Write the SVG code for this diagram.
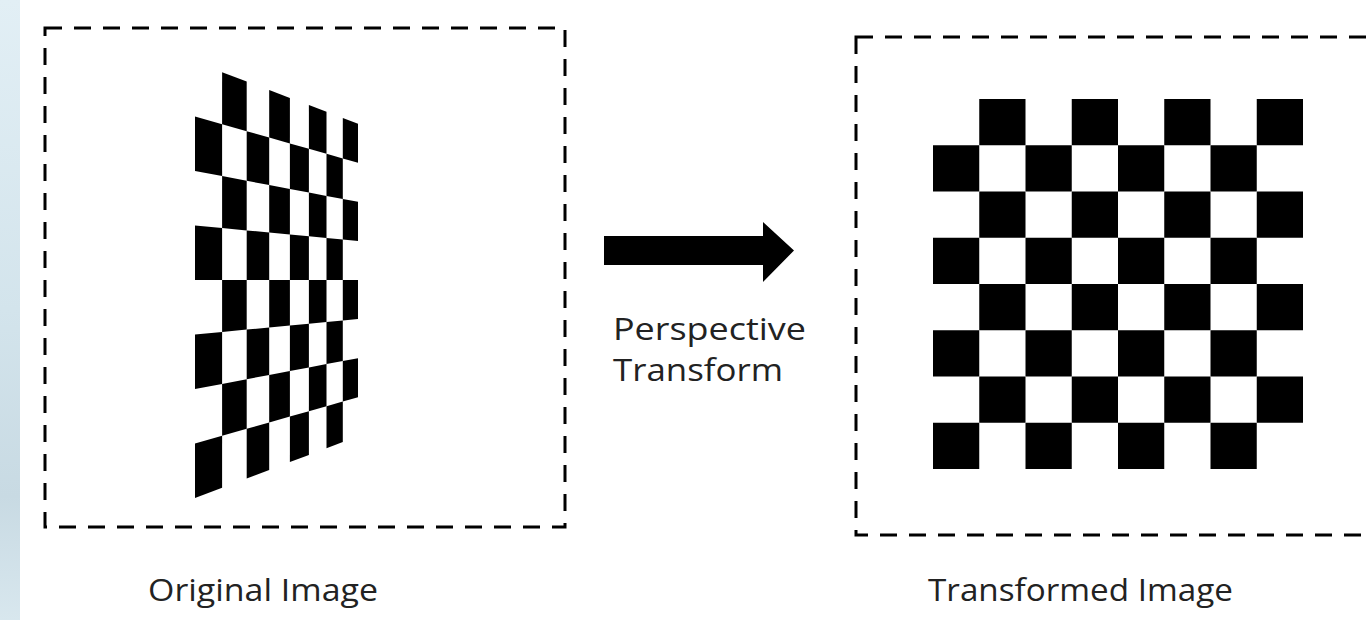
<svg xmlns="http://www.w3.org/2000/svg" width="1366" height="620" viewBox="0 0 1366 620">
  <style>
    .frame { fill: none; stroke: #000; stroke-width: 3; stroke-dasharray: 17 12; }
    .sq { fill: #000; }
    .label { font-family: "Open Sans", "Liberation Sans", sans-serif; font-size: 31px; fill: #222; }
  </style>
  <defs>
    <linearGradient id="edgeFade" x1="0" y1="0" x2="0" y2="1">
      <stop offset="0" stop-color="#e2eff5"/>
      <stop offset="0.5" stop-color="#d3e4ec"/>
      <stop offset="0.8" stop-color="#c8dae3"/>
      <stop offset="1" stop-color="#d8e7ee"/>
    </linearGradient>
    <!-- one square of the flat board, reused cell by cell -->
    <rect id="cell" width="46.25" height="46.25" class="sq"/>
  </defs>

  <rect width="1366" height="620" fill="#fff"/>
  <rect x="0" y="0" width="20" height="620" fill="url(#edgeFade)"/>

  <!-- source: board seen in perspective, columns shrinking to the right -->
  <g id="original">
    <rect class="frame" x="45" y="28" width="520" height="499"/>
    <g class="sq">
      <polygon points="195,116.5 222.1,124.2 222.1,176.1 195,171.0"/>
      <polygon points="195,225.5 222.1,228.1 222.1,280.0 195,280.0"/>
      <polygon points="195,334.5 222.1,331.9 222.1,383.9 195,389.0"/>
      <polygon points="195,443.5 222.1,435.8 222.1,487.8 195,498.0"/>

      <polygon points="222.1,72.2 246.7,81.6 246.7,131.2 222.1,124.2"/>
      <polygon points="222.1,176.1 246.7,180.8 246.7,230.4 222.1,228.1"/>
      <polygon points="222.1,280.0 246.7,280.0 246.7,329.6 222.1,331.9"/>
      <polygon points="222.1,383.9 246.7,379.2 246.7,428.8 222.1,435.8"/>

      <polygon points="246.7,131.2 269.2,137.6 269.2,185.0 246.7,180.8"/>
      <polygon points="246.7,230.4 269.2,232.5 269.2,280.0 246.7,280.0"/>
      <polygon points="246.7,329.6 269.2,327.5 269.2,375.0 246.7,379.2"/>
      <polygon points="246.7,428.8 269.2,422.4 269.2,469.9 246.7,478.4"/>

      <polygon points="269.2,90.1 289.9,97.9 289.9,143.4 269.2,137.6"/>
      <polygon points="269.2,185.0 289.9,188.9 289.9,234.5 269.2,232.5"/>
      <polygon points="269.2,280.0 289.9,280.0 289.9,325.5 269.2,327.5"/>
      <polygon points="269.2,375.0 289.9,371.1 289.9,416.6 269.2,422.4"/>

      <polygon points="289.9,143.4 308.9,148.8 308.9,192.6 289.9,188.9"/>
      <polygon points="289.9,234.5 308.9,236.3 308.9,280.0 289.9,280.0"/>
      <polygon points="289.9,325.5 308.9,323.7 308.9,367.4 289.9,371.1"/>
      <polygon points="289.9,416.6 308.9,411.2 308.9,454.9 289.9,462.1"/>

      <polygon points="308.9,105.1 326.5,111.8 326.5,153.8 308.9,148.8"/>
      <polygon points="308.9,192.6 326.5,195.9 326.5,237.9 308.9,236.3"/>
      <polygon points="308.9,280.0 326.5,280.0 326.5,322.1 308.9,323.7"/>
      <polygon points="308.9,367.4 326.5,364.1 326.5,406.2 308.9,411.2"/>

      <polygon points="326.5,153.8 342.8,158.5 342.8,199.0 326.5,195.9"/>
      <polygon points="326.5,237.9 342.8,239.5 342.8,280.0 326.5,280.0"/>
      <polygon points="326.5,322.1 342.8,320.5 342.8,361.0 326.5,364.1"/>
      <polygon points="326.5,406.2 342.8,401.5 342.8,442.1 326.5,448.2"/>

      <polygon points="342.8,117.9 358,123.7 358,162.8 342.8,158.5"/>
      <polygon points="342.8,199.0 358,201.8 358,240.9 342.8,239.5"/>
      <polygon points="342.8,280.0 358,280.0 358,319.1 342.8,320.5"/>
      <polygon points="342.8,361.0 358,358.2 358,397.2 342.8,401.5"/>
    </g>
    <text class="label" x="148" y="601" textLength="230" lengthAdjust="spacingAndGlyphs">Original Image</text>
  </g>

  <!-- result: the same board rectified to a regular 8x8 grid -->
  <g id="transformed">
    <rect class="frame" x="856" y="37" width="540" height="498"/>
    <g>
      <use href="#cell" x="979.25" y="99"/><use href="#cell" x="1071.75" y="99"/><use href="#cell" x="1164.25" y="99"/><use href="#cell" x="1256.75" y="99"/>
      <use href="#cell" x="933" y="145.25"/><use href="#cell" x="1025.5" y="145.25"/><use href="#cell" x="1118" y="145.25"/><use href="#cell" x="1210.5" y="145.25"/>
      <use href="#cell" x="979.25" y="191.5"/><use href="#cell" x="1071.75" y="191.5"/><use href="#cell" x="1164.25" y="191.5"/><use href="#cell" x="1256.75" y="191.5"/>
      <use href="#cell" x="933" y="237.75"/><use href="#cell" x="1025.5" y="237.75"/><use href="#cell" x="1118" y="237.75"/><use href="#cell" x="1210.5" y="237.75"/>
      <use href="#cell" x="979.25" y="284"/><use href="#cell" x="1071.75" y="284"/><use href="#cell" x="1164.25" y="284"/><use href="#cell" x="1256.75" y="284"/>
      <use href="#cell" x="933" y="330.25"/><use href="#cell" x="1025.5" y="330.25"/><use href="#cell" x="1118" y="330.25"/><use href="#cell" x="1210.5" y="330.25"/>
      <use href="#cell" x="979.25" y="376.5"/><use href="#cell" x="1071.75" y="376.5"/><use href="#cell" x="1164.25" y="376.5"/><use href="#cell" x="1256.75" y="376.5"/>
      <use href="#cell" x="933" y="422.75"/><use href="#cell" x="1025.5" y="422.75"/><use href="#cell" x="1118" y="422.75"/><use href="#cell" x="1210.5" y="422.75"/>
    </g>
    <text class="label" x="928" y="601" textLength="305" lengthAdjust="spacingAndGlyphs">Transformed Image</text>
  </g>

  <!-- block arrow between the two panels -->
  <g id="connectors">
    <polygon points="604,236 763,236 763,222 794,250.5 763,282 763,265 604,265" fill="#000"/>
    <text class="label" x="613" y="340" textLength="193" lengthAdjust="spacingAndGlyphs">Perspective</text>
    <text class="label" x="613" y="381" textLength="170" lengthAdjust="spacingAndGlyphs">Transform</text>
  </g>
</svg>
